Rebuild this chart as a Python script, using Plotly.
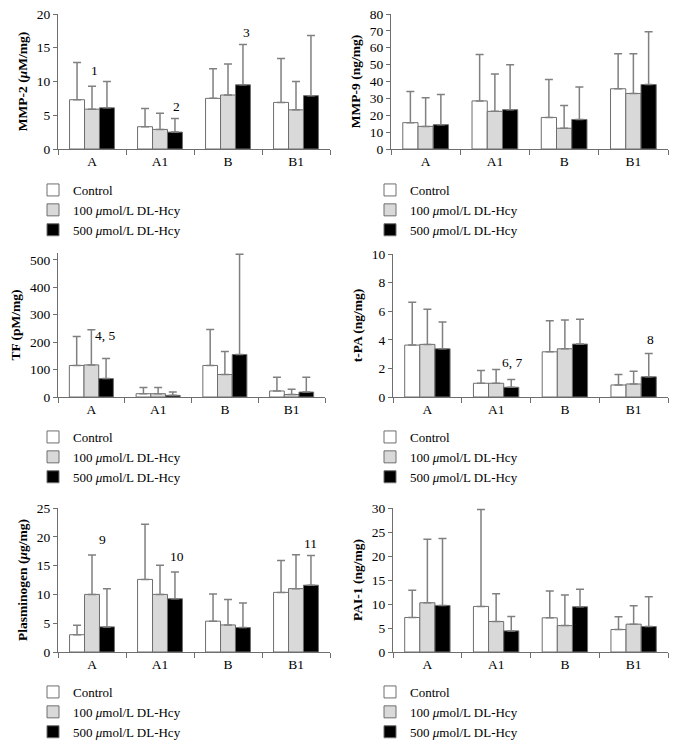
import plotly.graph_objects as go

categories = ["A", "A1", "B", "B1"]
series_names = ["Control", "100 <i>μ</i>mol/L DL-Hcy", "500 <i>μ</i>mol/L DL-Hcy"]

# MMP-2 (μM/mg)
mmp2_control = [7.3, 3.3, 7.5, 6.9]
mmp2_100 = [5.9, 2.9, 8.0, 5.8]
mmp2_500 = [6.1, 2.5, 9.5, 7.9]
mmp2_control_sd = [5.5, 2.7, 4.4, 6.5]
mmp2_100_sd = [3.4, 2.4, 4.6, 4.2]
mmp2_500_sd = [3.9, 2.0, 6.0, 8.9]

# MMP-9 (ng/mg)
mmp9_control = [15.6, 28.5, 18.7, 35.7]
mmp9_100 = [13.4, 22.3, 12.3, 32.9]
mmp9_500 = [14.4, 23.3, 17.5, 38.2]
mmp9_control_sd = [18.5, 27.5, 22.5, 20.8]
mmp9_100_sd = [16.9, 22.1, 13.5, 23.6]
mmp9_500_sd = [17.9, 26.7, 19.3, 31.3]

# TF (pM/mg)
tf_control = [115, 12, 115, 22]
tf_100 = [117, 12, 82, 9]
tf_500 = [67, 6, 155, 18]
tf_control_sd = [106, 23, 131, 50]
tf_100_sd = [128, 23, 84, 19]
tf_500_sd = [73, 12, 365, 54]

# t-PA (ng/mg)
tpa_control = [3.63, 0.96, 3.16, 0.84]
tpa_100 = [3.68, 0.96, 3.37, 0.91]
tpa_500 = [3.37, 0.68, 3.70, 1.41]
tpa_control_sd = [3.00, 0.89, 2.18, 0.73]
tpa_100_sd = [2.46, 0.96, 2.02, 0.89]
tpa_500_sd = [1.88, 0.54, 1.73, 1.63]

# Plasminogen (μg/mg)
plg_control = [3.0, 12.6, 5.35, 10.35]
plg_100 = [10.0, 10.0, 4.7, 11.0]
plg_500 = [4.36, 9.24, 4.24, 11.6]
plg_control_sd = [1.65, 9.6, 4.71, 5.52]
plg_100_sd = [6.86, 5.06, 4.43, 5.9]
plg_500_sd = [6.64, 4.66, 4.25, 5.14]

# PAI-1 (ng/mg)
pai_control = [7.19, 9.49, 7.12, 4.68]
pai_100 = [10.26, 6.35, 5.5, 5.8]
pai_500 = [9.7, 4.4, 9.42, 5.3]
pai_control_sd = [5.65, 20.21, 5.58, 2.65]
pai_100_sd = [13.24, 5.79, 6.36, 3.83]
pai_500_sd = [13.96, 3.0, 3.63, 6.2]

# significance labels: (category, y value, text, pixel shift)
labels_mmp2 = [("A", 11.7, "1", 2), ("A1", 6.3, "2", 16), ("B", 17.3, "3", 18)]
labels_tf = [("A", 224, "4, 5", 14)]
labels_tpa = [("A1", 2.41, "6, 7", 16), ("B1", 4.03, "8", 17)]
labels_plg = [("A", 19.6, "9", 10), ("A1", 16.5, "10", 17), ("B1", 18.9, "11", 14)]

W, H = 676, 744
FONT = "Liberation Serif"
AXC = "#6e6e6e"
fills = ["#ffffff", "#d9d9d9", "#000000"]
FS = 13.5

panels = [
    dict(means=[mmp2_control, mmp2_100, mmp2_500], sds=[mmp2_control_sd, mmp2_100_sd, mmp2_500_sd],
         title="<b>MMP-2 (<i>μ</i>M/mg)</b>", rng=[0, 20], dtick=5,
         x=(58, 330), y=(14, 149), labels=labels_mmp2, legend=(33, 175)),
    dict(means=[mmp9_control, mmp9_100, mmp9_500], sds=[mmp9_control_sd, mmp9_100_sd, mmp9_500_sd],
         title="<b>MMP-9 (ng/mg)</b>", rng=[0, 80], dtick=10,
         x=(391, 668), y=(14, 149), labels=[], legend=(370, 175)),
    dict(means=[tf_control, tf_100, tf_500], sds=[tf_control_sd, tf_100_sd, tf_500_sd],
         title="<b>TF (pM/mg)</b>", rng=[0, 525], dtick=100,
         x=(58, 325), y=(253, 397), labels=labels_tf, legend=(33, 422)),
    dict(means=[tpa_control, tpa_100, tpa_500], sds=[tpa_control_sd, tpa_100_sd, tpa_500_sd],
         title="<b>t-PA (ng/mg)</b>", rng=[0, 10], dtick=2,
         x=(393, 668), y=(254, 397), labels=labels_tpa, legend=(370, 422)),
    dict(means=[plg_control, plg_100, plg_500], sds=[plg_control_sd, plg_100_sd, plg_500_sd],
         title="<b>Plasminogen (<i>μ</i>g/mg)</b>", rng=[0, 25], dtick=5,
         x=(58, 330), y=(508, 652), labels=labels_plg, legend=(33, 677)),
    dict(means=[pai_control, pai_100, pai_500], sds=[pai_control_sd, pai_100_sd, pai_500_sd],
         title="<b>PAI-1 (ng/mg)</b>", rng=[0, 30], dtick=5,
         x=(393, 668), y=(508, 652), labels=[], legend=(370, 677)),
]

fig = go.Figure()
layout = dict(
    width=W, height=H, margin=dict(l=0, r=0, t=0, b=0, autoexpand=False),
    paper_bgcolor="white", plot_bgcolor="white",
    font=dict(family=FONT, size=FS, color="black"),
    barmode="group", bargap=0.34, bargroupgap=0,
    annotations=[],
)

for i, p in enumerate(panels):
    k = "" if i == 0 else str(i + 1)
    xa, ya = "x" + k, "y" + k
    lg = "legend" + k
    for j in range(3):
        fig.add_trace(go.Bar(
            x=categories, y=p["means"][j], name=series_names[j],
            xaxis=xa, yaxis=ya, legend=lg,
            marker=dict(color=fills[j], line=dict(color=AXC, width=1)),
            error_y=dict(type="data", symmetric=False, array=p["sds"][j],
                         arrayminus=[0] * 4, color="#808080", thickness=1.5, width=4),
        ))
    x0, x1 = p["x"]
    yt, yb = p["y"]
    layout["xaxis" + k] = dict(
        domain=[x0 / W, x1 / W], anchor=ya, type="category",
        showline=True, linecolor=AXC, linewidth=1,
        ticks="outside", tickson="boundaries", ticklen=5, tickcolor=AXC,
        showgrid=False, tickfont=dict(size=FS), automargin=False,
    )
    layout["yaxis" + k] = dict(
        domain=[1 - yb / H, 1 - yt / H], anchor=xa, range=p["rng"],
        tick0=0, dtick=p["dtick"], showline=True, linecolor=AXC, linewidth=1,
        ticks="outside", ticklen=4, tickcolor=AXC, showgrid=False, zeroline=False,
        title=dict(text=p["title"], font=dict(size=FS), standoff=6),
        tickfont=dict(size=FS), automargin=False,
    )
    if p["rng"][1] == 525:
        layout["yaxis" + k]["tickvals"] = [0, 100, 200, 300, 400, 500]
    lx, ly = p["legend"]
    layout[lg] = dict(
        x=lx / W, y=1 - ly / H, xanchor="left", yanchor="top",
        font=dict(size=13), bgcolor="rgba(0,0,0,0)", borderwidth=0,
        tracegroupgap=0,
    )
    for cat, yv, txt, sh in p["labels"]:
        layout["annotations"].append(dict(
            x=cat, y=yv, xref=xa, yref=ya, text=txt, showarrow=False,
            xshift=sh, font=dict(size=FS, family=FONT, color="black"), yanchor="middle",
        ))

fig.update_layout(**layout)
fig.write_html("out.html", config={"staticPlot": True, "displayModeBar": False},
               post_script="document.body.style.margin='0';")
